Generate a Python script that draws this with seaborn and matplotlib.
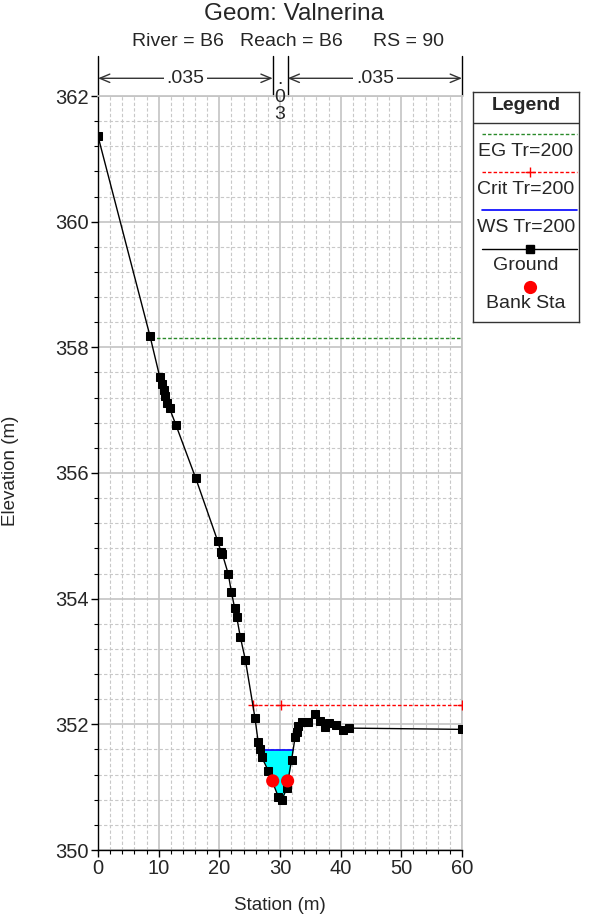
import numpy as np
import pandas as pd
import seaborn as sns
import matplotlib.pyplot as plt
from matplotlib.ticker import MultipleLocator

# cross-section ground points (station, elevation)
station = [0, 8.57, 10.2, 10.5, 10.8, 11.1, 11.4, 11.8, 12.86, 16.1, 19.72, 20.27,
           20.5, 21.48, 21.98, 22.53, 22.86, 23.46, 24.28, 25.88, 26.4, 26.65, 26.98,
           28.07, 29.7, 30.27, 31.1, 31.9, 32.5, 32.75, 33.0, 33.6, 34.6, 35.8, 36.6,
           37.4, 38.0, 39.3, 40.4, 41.3, 60]
elevation = [361.36, 358.18, 357.52, 357.42, 357.32, 357.22, 357.12, 357.03, 356.76,
             355.92, 354.92, 354.75, 354.71, 354.39, 354.11, 353.85, 353.71, 353.39,
             353.03, 352.10, 351.72, 351.60, 351.48, 351.26, 350.85, 350.79, 350.98,
             351.43, 351.80, 351.88, 351.97, 352.03, 352.03, 352.17, 352.06, 351.96,
             352.02, 351.99, 351.91, 351.94, 351.92]

bank_sta = [28.8, 31.25]
bank_elev = [351.10, 351.10]

eg_elev = 358.15
eg_sta = [8.8, 60]
crit_elev = 352.30
crit_sta = [25.5, 30.2, 60]
ws_elev = 351.59
ws_sta = [26.7, 32.2]

n_values = ['.035', '.\n0\n3', '.035']
n_bounds = [0, 28.8, 31.25, 60]

ground = pd.DataFrame({'Station': station, 'Elevation': elevation})
banks = pd.DataFrame({'Station': bank_sta, 'Elevation': bank_elev})

sns.set_theme(style='white')
plt.rcParams['font.family'] = ['Liberation Sans', 'DejaVu Sans']

fig = plt.figure(figsize=(5.89, 9.14), dpi=100)
ax = fig.add_axes([98 / 589, 1 - 850 / 914, 364 / 589, 754 / 914])

# water surface fill
st = np.array(station)
el = np.array(elevation)
ax.fill_between(st, el, ws_elev, where=(el <= ws_elev) & (st > 25) & (st < 33),
                interpolate=True, color='cyan', lw=0, zorder=2)
ax.plot(ws_sta, [ws_elev, ws_elev], color='blue', lw=1.2, zorder=3)

ax.plot(eg_sta, [eg_elev, eg_elev], color='#2a8a2a', lw=1, ls=(0, (2.5, 1.5)), zorder=3)
ax.plot([crit_sta[0], crit_sta[-1]], [crit_elev, crit_elev], color='red', lw=1,
        ls=(0, (2.5, 1.5)), zorder=3)
ax.plot(crit_sta, [crit_elev] * len(crit_sta), ls='none', marker='+', color='red',
        markersize=7, mew=1, zorder=3)

sns.lineplot(data=ground, x='Station', y='Elevation', sort=False, color='black',
             lw=1, marker='s', markersize=5.8, markeredgecolor='black', ax=ax, zorder=4)
sns.scatterplot(data=banks, x='Station', y='Elevation', color='red', s=90,
                edgecolor='none', ax=ax, zorder=5)

ax.set_xlim(0, 60)
ax.set_ylim(350, 362)
ax.xaxis.set_major_locator(MultipleLocator(10))
ax.xaxis.set_minor_locator(MultipleLocator(2))
ax.yaxis.set_major_locator(MultipleLocator(2))
ax.yaxis.set_minor_locator(MultipleLocator(0.4))
ax.grid(which='major', color='#c4c4c4', lw=1.2, zorder=0)
ax.grid(which='minor', color='#c8c8c8', lw=0.8, ls=(0, (3, 2)), zorder=0)
ax.set_axisbelow(True)
ax.tick_params(which='major', direction='out', length=5, width=1, color='black',
               labelsize=14.5, pad=1.5, left=True, bottom=True)
ax.tick_params(which='minor', direction='out', length=2.8, width=0.8, color='black',
               left=True, bottom=True)
for s in ['top', 'right']:
    ax.spines[s].set_color('#c4c4c4')
for s in ['left', 'bottom']:
    ax.spines[s].set_color('black')
    ax.spines[s].set_linewidth(1)
ax.set_xlabel('')
ax.set_ylabel('')

# n-value brackets above the plot
tr = ax.get_xaxis_transform()
for b in n_bounds:
    ax.plot([b, b], [1.0, 1.0525], transform=tr, color='black', lw=1, clip_on=False)
for i, label in enumerate(n_values):
    x0, x1 = n_bounds[i], n_bounds[i + 1]
    xm = (x0 + x1) / 2
    if x1 - x0 > 5:
        ax.annotate('', xy=(x0, 1.0235), xytext=(x1, 1.0235), xycoords=tr, textcoords=tr,
                    arrowprops=dict(arrowstyle='<->, head_length=0.6, head_width=0.25',
                                    color='#333333', lw=1, shrinkA=0, shrinkB=0))
        ax.text(xm, 1.0235, label, transform=tr, ha='center', va='center', fontsize=14,
                bbox=dict(facecolor='white', edgecolor='none', pad=2))
    else:
        ax.text(xm, 1.033, label, transform=tr, ha='center', va='top', fontsize=14,
                linespacing=1.05)

fig.text(0.5, 1 - 14 / 914, 'Geom: Valnerina', ha='center', va='center', fontsize=17.5)
for x, t in [(131.5, 'River = B6'), (240, 'Reach = B6'), (373, 'RS = 90')]:
    fig.text(x / 589, 1 - 42 / 914, t, ha='left', va='center', fontsize=14)
fig.text(280 / 589, 1 - 906 / 914, 'Station (m)', ha='center', va='center', fontsize=13.5)
fig.text(11 / 589, 1 - 471 / 914, 'Elevation (m)', ha='center', va='center',
         rotation=90, fontsize=13.5)

# legend box
lax = fig.add_axes([473 / 589, 1 - 322 / 914, 106 / 589, 230 / 914])
lax.set_xlim(0, 106)
lax.set_ylim(230, 0)
lax.set_xticks([])
lax.set_yticks([])
for s in lax.spines.values():
    s.set_color('#333333')
    s.set_linewidth(1)
lax.axhline(30.5, color='#333333', lw=1)
lax.text(53, 14, 'Legend', ha='center', va='center', fontsize=14, fontweight='bold')
lx = [9, 104]
lax.plot(lx, [41.5, 41.5], color='#2a8a2a', lw=1, ls=(0, (2.5, 1.5)))
lax.text(53, 59, 'EG Tr=200', ha='center', va='center', fontsize=14)
lax.plot(lx, [80, 80], color='red', lw=1, ls=(0, (2.5, 1.5)))
lax.plot([57], [80], marker='+', color='red', markersize=7, mew=1)
lax.text(53, 97, 'Crit Tr=200', ha='center', va='center', fontsize=14)
lax.plot(lx, [118, 118], color='blue', lw=1.2)
lax.text(53, 135, 'WS Tr=200', ha='center', va='center', fontsize=14)
lax.plot(lx, [157, 157], color='black', lw=1)
lax.plot([57], [157], marker='s', color='black', markersize=5.8)
lax.text(53, 173.5, 'Ground', ha='center', va='center', fontsize=14)
lax.plot([57], [195], marker='o', color='red', markersize=9.5, mec='none')
lax.text(53, 212, 'Bank Sta', ha='center', va='center', fontsize=14)

fig.savefig('out.png', dpi=100)
